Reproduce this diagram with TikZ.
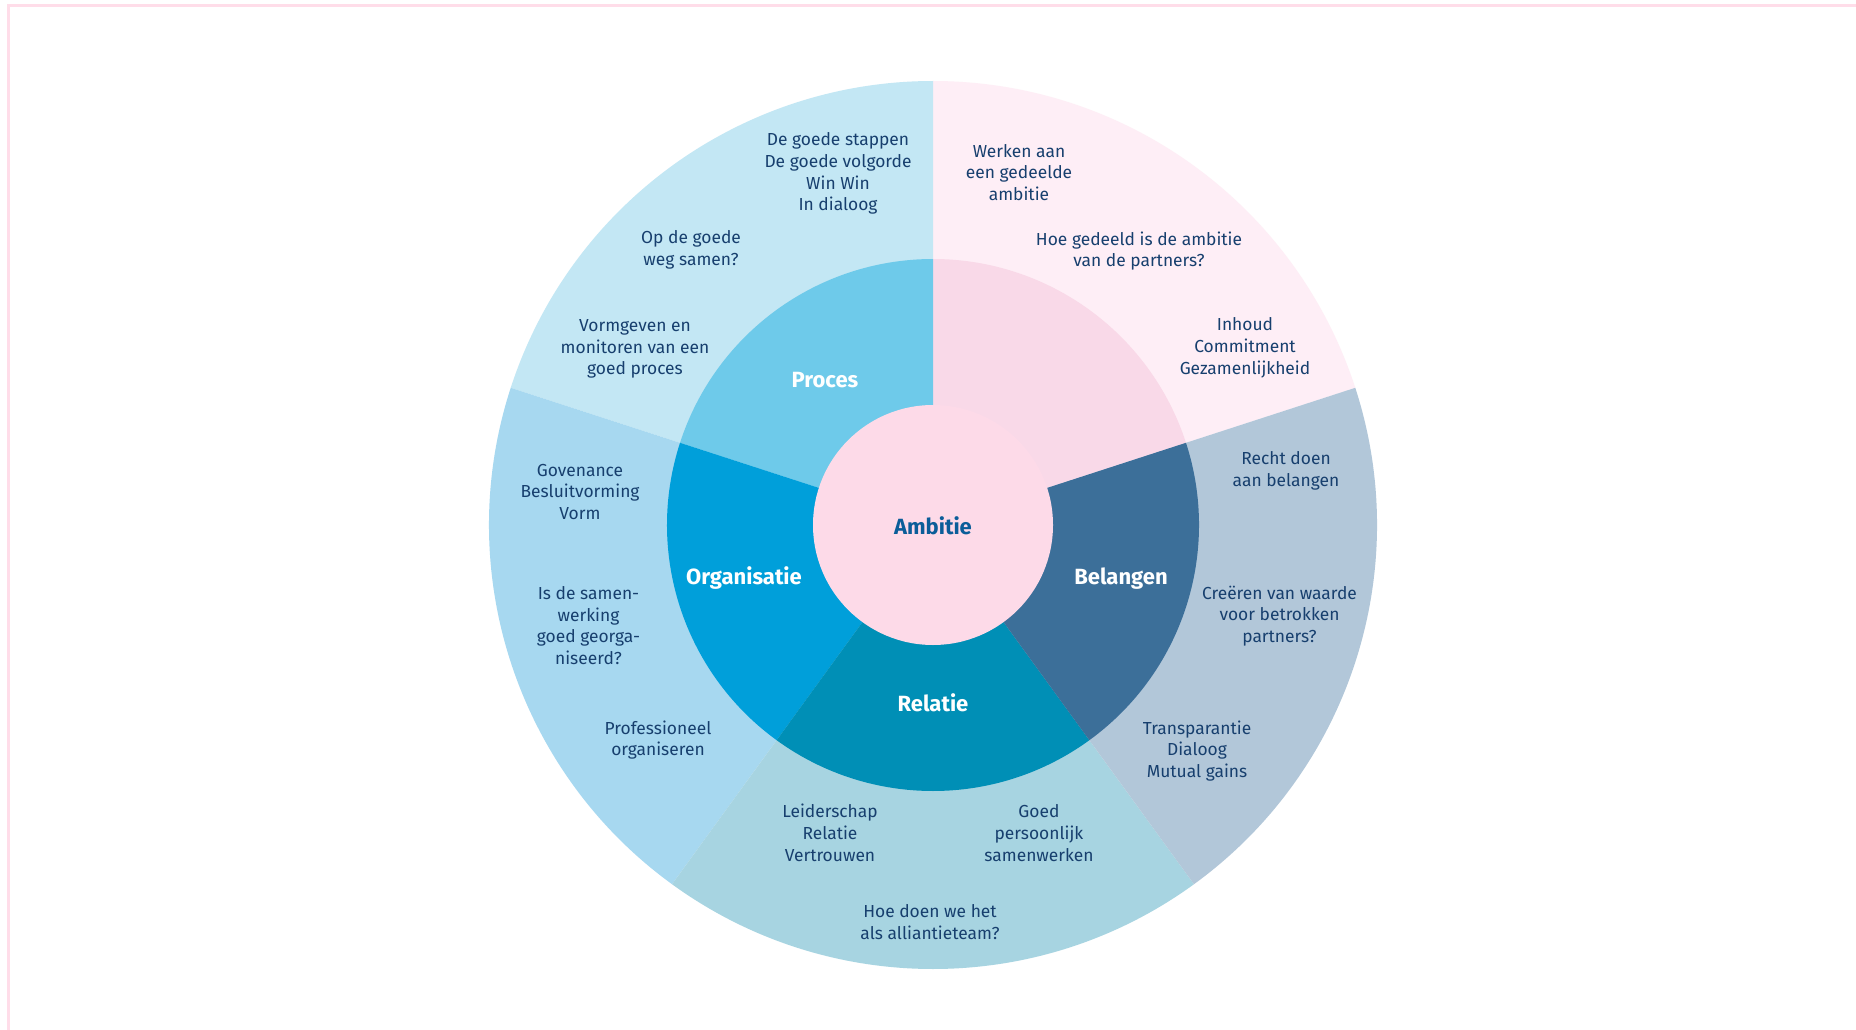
\documentclass[tikz,border=0pt]{standalone}
\usepackage{fontspec}
\setmainfont{Fira Sans}
\definecolor{txtc}{HTML}{173F6E}
\definecolor{ambl}{HTML}{0B5D99}
\definecolor{framec}{HTML}{FFDDE9}
\definecolor{ambO}{HTML}{FEEEF6}
\definecolor{ambI}{HTML}{F9D9E8}
\definecolor{ambC}{HTML}{FDDAE8}
\definecolor{proO}{HTML}{C3E7F4}
\definecolor{proI}{HTML}{6ECAEA}
\definecolor{orgO}{HTML}{A7D8F0}
\definecolor{orgI}{HTML}{009FDA}
\definecolor{relO}{HTML}{A7D4E1}
\definecolor{relI}{HTML}{008FB6}
\definecolor{belO}{HTML}{B2C7D9}
\definecolor{belI}{HTML}{3C6F99}
\begin{document}
\begin{tikzpicture}[x=1pt,y=-1pt,
  txt/.style={text=txtc, font=\fontsize{17.4}{21.8}\selectfont, align=center, inner sep=0pt, yshift=-1pt},
  lab/.style={text=white, font=\fontsize{22}{26}\selectfont\bfseries, inner sep=0pt, yshift=-1pt}]
\useasboundingbox (0,0) rectangle (1856,1030);
\fill[white] (0,0) rectangle (1856,1030);
\draw[framec, line width=3pt] (8.5,1030) -- (8.5,6) -- (1856,6);
\begin{scope}[shift={(933,525)}, y=1pt]
  % outer ring
  \fill[ambO] (0,0) -- (18:444) arc[start angle=18,end angle=90,radius=444] -- cycle;
  \fill[proO] (0,0) -- (90:444) arc[start angle=90,end angle=162,radius=444] -- cycle;
  \fill[orgO] (0,0) -- (162:444) arc[start angle=162,end angle=234,radius=444] -- cycle;
  \fill[relO] (0,0) -- (234:444) arc[start angle=234,end angle=306,radius=444] -- cycle;
  \fill[belO] (0,0) -- (306:444) arc[start angle=306,end angle=378,radius=444] -- cycle;
  % middle ring
  \fill[ambI] (0,0) -- (18:266) arc[start angle=18,end angle=90,radius=266] -- cycle;
  \fill[proI] (0,0) -- (90:266) arc[start angle=90,end angle=162,radius=266] -- cycle;
  \fill[orgI] (0,0) -- (162:266) arc[start angle=162,end angle=234,radius=266] -- cycle;
  \fill[relI] (0,0) -- (234:266) arc[start angle=234,end angle=306,radius=266] -- cycle;
  \fill[belI] (0,0) -- (306:266) arc[start angle=306,end angle=378,radius=266] -- cycle;
  % centre
  \fill[ambC] (0,0) circle[radius=120];
\end{scope}
% ring labels
\node[lab, text=ambl] (lAmb) at (933,525) {Ambitie};
\node[lab] (lPro) at (825,379) {Proces};
\node[lab] (lBel) at (1121,578) {Belangen};
\node[lab] (lOrg) at (744,577) {Organisatie};
\node[lab] (lRel) at (933,702) {Relatie};
% outer texts
\node[txt] (procA) at (838,172.5) {De goede stappen\\De goede volgorde\\Win Win\\In dialoog};
\node[txt] (procB) at (691,249) {Op de goede\\weg samen?};
\node[txt] (procC) at (635,348) {Vormgeven en\\monitoren van een\\goed proces};
\node[txt] (ambA) at (1019,171.5) {Werken aan\\een gedeelde\\ambitie};
\node[txt] (ambB) at (1139,250) {Hoe gedeeld is de ambitie\\van de partners?};
\node[txt] (ambCt) at (1245,347) {Inhoud\\Commitment\\Gezamenlijkheid};
\node[txt] (orgA) at (580,491) {Govenance\\Besluitvorming\\Vorm};
\node[txt] (orgB) at (588.5,624.5) {Is de samen-\\werking\\goed georga-\\niseerd?};
\node[txt] (orgC) at (658,739) {Professioneel\\organiseren};
\node[txt] (belA) at (1286,470) {Recht doen\\aan belangen};
\node[txt] (belB) at (1279.5,615) {Creëren van waarde\\voor betrokken\\partners?};
\node[txt] (belC) at (1197,750) {Transparantie\\Dialoog\\Mutual gains};
\node[txt] (relA) at (830,832) {Leiderschap\\Relatie\\Vertrouwen};
\node[txt] (relB) at (1039,832) {Goed\\persoonlijk\\samenwerken};
\node[txt] (relC) at (930,921) {Hoe doen we het\\als alliantieteam?};
\end{tikzpicture}
\end{document}
